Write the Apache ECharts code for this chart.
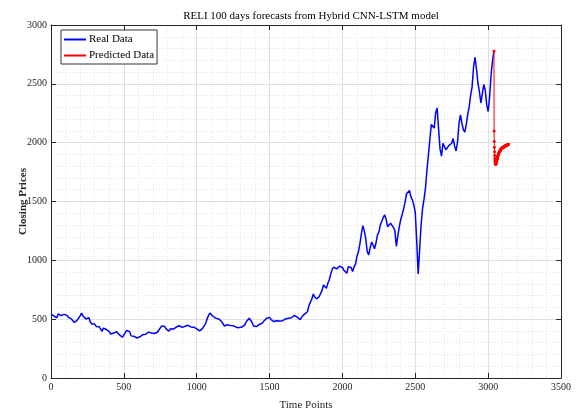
<!DOCTYPE html>
<html>
<head>
<meta charset="utf-8">
<script src="https://cdn.jsdelivr.net/npm/echarts@6/dist/echarts.min.js"></script>
<style>html,body{margin:0;padding:0;background:#fff;}#c{width:581px;height:412px;}</style>
</head>
<body>
<div id="c"></div>
<script>
// Real data: sampled every 10 time points starting at 0
var realStep = 10;
var realValues = [
540,556,528,540,512,545,558,530,518,541,528,532,515,514,502,494,472,480,492,510,
528,552,526,522,501,500,512,476,458,470,458,438,446,436,418,396,424,428,412,398,
394,374,376,382,396,394,382,366,355,346,366,378,404,410,394,358,368,354,352,340,
348,350,362,368,367,372,384,390,400,382,393,378,390,389,408,418,443,452,438,418,
408,398,418,407,416,418,433,422,444,432,430,422,440,438,448,437,434,424,432,418,
417,405,400,402,422,438,460,498,528,552,542,527,518,509,522,502,500,482,472,442,
444,452,465,447,458,445,442,432,430,428,442,433,444,452,478,485,508,497,472,442,
430,437,452,455,468,466,483,488,508,522,515,497,490,480,489,487,483,485,486,487,
500,502,512,508,511,512,528,532,542,517,508,495,518,522,543,541,563,615,644,670,
714,690,672,670,690,696,745,790,775,762,805,835,885,925,942,926,927,930,950,946,
940,915,910,890,945,960,940,904,945,970,1035,1075,1140,1225,1295,1250,1185,1075,1045,1105,
1155,1130,1098,1145,1215,1240,1300,1330,1365,1386,1350,1285,1290,1315,1330,1280,1252,1118,1205,1285,
1345,1390,1438,1495,1566,1572,1594,1540,1514,1470,1405,1155,884,1095,1305,1440,1520,1615,1765,1895,
2025,2155,2155,2124,2255,2295,2115,1945,1885,1995,1980,1940,1940,1975,1977,1995,2035,1970,1930,2005,
2165,2237,2165,2110,2090,2155,2240,2305,2405,2475,2645,2725,2625,2505,2435,2337,2415,2495,2445,2325,
2265,2385,2575,2695,2780
];
// Predicted data: 100 daily forecasts starting at time point 3040
var predStart = 3040;
var predValues = [
2780,2100,2010,1960,1922,1890,1866,1848,1835,1826,1820,1817,1815,1818,1822,1826,1831,1836,1840,1846,
1852,1857,1863,1868,1873,1878,1882,1887,1891,1895,1899,1903,1906,1910,1913,1916,1919,1922,1925,1927,
1930,1932,1934,1936,1938,1940,1942,1943,1945,1946,1948,1949,1950,1951,1952,1953,1954,1955,1956,1957,
1958,1959,1960,1961,1962,1963,1963,1964,1965,1966,1967,1967,1968,1969,1970,1970,1971,1972,1972,1973,
1974,1975,1975,1976,1977,1977,1978,1979,1979,1980,1981,1981,1982,1983,1983,1984,1985,1985,1986,1987
];
var xTicks = {min:0, max:3500, interval:500};
var yTicks = {min:0, max:3000, interval:500};

var realData = realValues.map(function(v,i){return [i*realStep, v];});
var predData = predValues.map(function(v,i){return [predStart+i, v];});

var font = 'Liberation Serif';
var axisCol = '#262626';
function mkAxis(t, pos, labels, extra){
  var a = {
    type:'value', position:pos, min:t.min, max:t.max, interval:t.interval,
    axisLine:{show:true, onZero:false, lineStyle:{color:axisCol, width:1}},
    axisTick:{show:true, inside:true, length:5, lineStyle:{color:axisCol}},
    minorTick:{show:false, splitNumber:5},
    axisLabel:{show:labels, color:axisCol, fontFamily:font, fontSize:10, margin:4,
      formatter:function(v){return String(v);}},
    splitLine:{show:labels, lineStyle:{color:'#e0e0e0', width:1}},
    minorSplitLine:{show:labels, lineStyle:{color:'#e4e4e4', type:[1,2], width:1}}
  };
  for (var k in extra) a[k]=extra[k];
  return a;
}
var chart = echarts.init(document.getElementById('c'));
chart.setOption({
  animation:false,
  backgroundColor:'#fff',
  title:{text:'RELI 100 days forecasts from Hybrid CNN-LSTM model', left:306, textAlign:'center', top:6,
    textStyle:{fontFamily:font, fontSize:11, fontWeight:'normal', color:'#000'}},
  grid:{left:51, right:20, top:25, bottom:34, outerBoundsMode:'none', containLabel:false},
  legend:{left:61, top:30, orient:'vertical', itemWidth:22, itemHeight:2, itemGap:5,
    padding:[4,3,3,3], backgroundColor:'#fff', borderColor:'#333', borderWidth:1, borderRadius:0,
    textStyle:{fontFamily:font, fontSize:11, color:'#000', padding:[0,0,0,-2]},
    data:[{name:'Real Data', icon:'rect'},{name:'Predicted Data', icon:'rect'}]},
  xAxis:[
    mkAxis(xTicks,'bottom',true,{name:'Time Points', nameLocation:'middle', nameGap:22, nameMoveOverlap:false,
      nameTextStyle:{fontFamily:font, fontSize:11, color:axisCol}}),
    mkAxis(xTicks,'top',false,{})
  ],
  yAxis:[
    mkAxis(yTicks,'left',true,{name:'Closing Prices', nameLocation:'middle', nameGap:22, nameMoveOverlap:false,
      nameTextStyle:{fontFamily:font, fontSize:11, color:axisCol, fontWeight:'bold'}}),
    mkAxis(yTicks,'right',false,{})
  ],
  series:[
    {name:'Real Data', type:'line', data:realData, showSymbol:false, symbol:'none',
      lineStyle:{color:'#0000ff', width:1.5}, itemStyle:{color:'#0000ff'}, z:2},
    {name:'Predicted Data', type:'line', data:predData, symbol:'circle', symbolSize:3, showSymbol:true,
      lineStyle:{color:'#ff0000', width:1}, itemStyle:{color:'#ff0000'}, z:3}
  ]
});
</script>
</body>
</html>
